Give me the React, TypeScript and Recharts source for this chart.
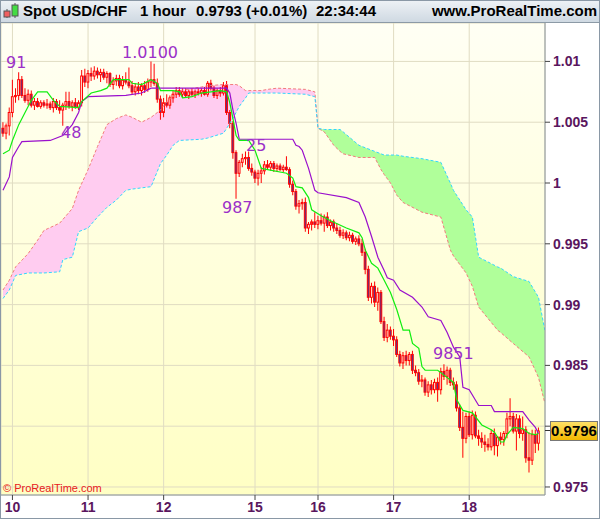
import React from 'react';
import { ComposedChart, Bar, Line, Area, XAxis, YAxis, CartesianGrid } from 'recharts';

// hourly bars, index 0 = first candle on the left
const dayLabels = ['10', '11', '12', '15', '16', '17', '18'];
const dayTicks = [3, 27, 51, 80, 100, 124, 148];
const priceTicks = [0.975, 0.98, 0.985, 0.99, 0.995, 1, 1.005, 1.01];

const opens = [
  1.0045, 1.0041, 1.0047, 1.0058, 1.0071, 1.0072, 1.0085, 1.0072, 1.0068, 1.0073,
  1.0064, 1.0067, 1.0063, 1.0066, 1.0064, 1.0065, 1.0062, 1.0067, 1.0062, 1.006,
  1.0064, 1.0067, 1.0063, 1.0066, 1.0062, 1.0066, 1.0088, 1.0083, 1.009, 1.0088,
  1.0092, 1.0089, 1.0091, 1.0087, 1.009, 1.0081, 1.0084, 1.0086, 1.008, 1.0085,
  1.0083, 1.008, 1.0075, 1.0079, 1.0076, 1.008, 1.0077, 1.0083, 1.0085, 1.0082,
  1.0069, 1.0058, 1.0066, 1.0064, 1.007, 1.0073, 1.0076, 1.0073, 1.0075, 1.0072,
  1.0075, 1.0073, 1.0075, 1.0074, 1.0076, 1.0073, 1.0082, 1.0078, 1.0072, 1.0076,
  1.0074, 1.008, 1.0058, 1.0049, 1.0025, 1.0008, 1.0017, 1.002, 1.0021, 1.0012,
  1.0009, 1.0004, 1.0008, 1.001, 1.0015, 1.0013, 1.0016, 1.0012, 1.0014, 1.0011,
  1.0013, 1.0011, 0.9999, 0.9993, 0.9981, 0.9983, 0.9984, 0.9963, 0.9966, 0.9968,
  0.9966, 0.9969, 0.9967, 0.9972, 0.9965, 0.9968, 0.9963, 0.9961, 0.9957, 0.9959,
  0.9955, 0.9957, 0.9952, 0.9954, 0.995, 0.9943, 0.9929, 0.9906, 0.9915, 0.9902,
  0.991, 0.9886, 0.9873, 0.9879, 0.9874, 0.9871, 0.9859, 0.9852, 0.9858, 0.9854,
  0.9859, 0.9846, 0.9844, 0.9837, 0.9838, 0.9828, 0.9834, 0.983, 0.9836, 0.983,
  0.9845, 0.9841, 0.9846, 0.9836, 0.9834, 0.9815, 0.9799, 0.979, 0.9808, 0.9793,
  0.9809, 0.9792, 0.979, 0.9787, 0.9785, 0.9783, 0.9794, 0.9784, 0.9791, 0.9789,
  0.9794, 0.9806, 0.9808, 0.9796, 0.9806, 0.9794, 0.9797, 0.9774, 0.9772, 0.9793,
  0.9786,
];
const highs = [
  1.005, 1.0049, 1.0062, 1.0085, 1.0078, 1.0091, 1.0088, 1.0078, 1.0077, 1.0076,
  1.007, 1.007, 1.0068, 1.0068, 1.0069, 1.0067, 1.007, 1.0069, 1.0068, 1.0066,
  1.0075, 1.0075, 1.0068, 1.007, 1.0068, 1.0093, 1.0094, 1.0093, 1.0095, 1.0096,
  1.0095, 1.0094, 1.0094, 1.0092, 1.0091, 1.0087, 1.0089, 1.0089, 1.0088, 1.0091,
  1.0095, 1.0084, 1.0082, 1.0083, 1.0082, 1.0084, 1.0086, 1.01, 1.0098, 1.0086,
  1.0072, 1.007, 1.0073, 1.0072, 1.0076, 1.0079, 1.0079, 1.0078, 1.0078, 1.0077,
  1.0078, 1.0077, 1.0078, 1.0078, 1.0079, 1.0084, 1.0085, 1.008, 1.0078, 1.0079,
  1.0083, 1.0084, 1.006, 1.0051, 1.0027, 1.0019, 1.0024, 1.0026, 1.0026, 1.0016,
  1.0011, 1.0011, 1.0013, 1.0018, 1.0019, 1.0018, 1.0018, 1.0016, 1.0016, 1.0015,
  1.0022, 1.0013, 1.0002, 0.9995, 0.9986, 0.9987, 0.9988, 0.9968, 0.997, 0.9976,
  0.9973, 0.9975, 0.9974, 0.9976, 0.997, 0.997, 0.9967, 0.9964, 0.9962, 0.9961,
  0.996, 0.9959, 0.9956, 0.9957, 0.9954, 0.9946, 0.9932, 0.9918, 0.9919, 0.9914,
  0.9912, 0.989, 0.9884, 0.9882, 0.988, 0.9874, 0.9862, 0.9861, 0.9862, 0.9861,
  0.9862, 0.985, 0.9847, 0.9842, 0.984, 0.9837, 0.9838, 0.9839, 0.984, 0.9848,
  0.9851, 0.9849, 0.9848, 0.984, 0.9837, 0.9818, 0.9812, 0.9811, 0.9812, 0.9813,
  0.9812, 0.9797, 0.9795, 0.9793, 0.979, 0.9797, 0.9798, 0.9792, 0.9795, 0.9796,
  0.9811, 0.9823, 0.9811, 0.981, 0.9809, 0.9808, 0.98, 0.9795, 0.9797, 0.9797,
  0.9799,
];
const lows = [
  1.0038, 1.0036, 1.0039, 1.0054, 1.0066, 1.0068, 1.007, 1.0066, 1.0064, 1.0062,
  1.006, 1.0062, 1.0061, 1.0062, 1.0061, 1.006, 1.0058, 1.006, 1.0057, 1.0047,
  1.006, 1.0061, 1.0059, 1.0061, 1.006, 1.0063, 1.0079, 1.0078, 1.0084, 1.0085,
  1.0086, 1.0083, 1.0085, 1.0082, 1.0079, 1.0077, 1.008, 1.0078, 1.0077, 1.0081,
  1.0078, 1.0073, 1.0072, 1.0073, 1.0072, 1.0074, 1.0075, 1.0079, 1.008, 1.0066,
  1.0052, 1.0054, 1.0062, 1.0061, 1.0066, 1.007, 1.0071, 1.007, 1.007, 1.0069,
  1.0071, 1.007, 1.0072, 1.0071, 1.0072, 1.0071, 1.0076, 1.007, 1.0069, 1.0071,
  1.0072, 1.0056, 1.0045, 1.002, 0.9987, 1.0005, 1.0013, 1.0015, 1.001, 1.0006,
  1.0, 0.9998, 1.0, 1.0007, 1.0011, 1.001, 1.0009, 1.0009, 1.001, 1.0009,
  1.001, 0.9996, 0.999, 0.9978, 0.9975, 0.9978, 0.996, 0.9958, 0.9961, 0.9963,
  0.9962, 0.9965, 0.996, 0.9963, 0.9961, 0.996, 0.9958, 0.9955, 0.9954, 0.9953,
  0.9952, 0.995, 0.9949, 0.9948, 0.994, 0.9925, 0.9903, 0.9901, 0.9898, 0.9895,
  0.9884, 0.987, 0.9869, 0.9871, 0.9866, 0.9857, 0.9849, 0.9847, 0.985, 0.985,
  0.9843, 0.9841, 0.9834, 0.9832, 0.9825, 0.9824, 0.9826, 0.9827, 0.982, 0.9826,
  0.9838, 0.9834, 0.9833, 0.983, 0.9812, 0.9796, 0.9774, 0.9786, 0.9791, 0.9789,
  0.979, 0.9784, 0.9782, 0.9779, 0.978, 0.978, 0.9776, 0.9775, 0.9785, 0.9784,
  0.979, 0.98, 0.9794, 0.978, 0.979, 0.9788, 0.977, 0.9762, 0.9768, 0.9778,
  0.978,
];
const closes = [
  1.0041, 1.0047, 1.0058, 1.0071, 1.0072, 1.0085, 1.0072, 1.0068, 1.0073, 1.0064,
  1.0067, 1.0063, 1.0066, 1.0064, 1.0065, 1.0062, 1.0067, 1.0062, 1.006, 1.0064,
  1.0067, 1.0063, 1.0066, 1.0062, 1.0066, 1.0088, 1.0083, 1.009, 1.0088, 1.0092,
  1.0089, 1.0091, 1.0087, 1.009, 1.0081, 1.0084, 1.0086, 1.008, 1.0085, 1.0083,
  1.008, 1.0075, 1.0079, 1.0076, 1.008, 1.0077, 1.0083, 1.0085, 1.0082, 1.0069,
  1.0058, 1.0066, 1.0064, 1.007, 1.0073, 1.0076, 1.0073, 1.0075, 1.0072, 1.0075,
  1.0073, 1.0075, 1.0074, 1.0076, 1.0073, 1.0082, 1.0078, 1.0072, 1.0076, 1.0074,
  1.008, 1.0058, 1.0049, 1.0025, 1.0008, 1.0017, 1.002, 1.0021, 1.0012, 1.0009,
  1.0004, 1.0008, 1.001, 1.0015, 1.0013, 1.0016, 1.0012, 1.0014, 1.0011, 1.0013,
  1.0011, 0.9999, 0.9993, 0.9981, 0.9983, 0.9984, 0.9963, 0.9966, 0.9968, 0.9966,
  0.9969, 0.9967, 0.9972, 0.9965, 0.9968, 0.9963, 0.9961, 0.9957, 0.9959, 0.9955,
  0.9957, 0.9952, 0.9954, 0.995, 0.9943, 0.9929, 0.9906, 0.9915, 0.9902, 0.991,
  0.9886, 0.9873, 0.9879, 0.9874, 0.9871, 0.9859, 0.9852, 0.9858, 0.9854, 0.9859,
  0.9846, 0.9844, 0.9837, 0.9838, 0.9828, 0.9834, 0.983, 0.9836, 0.983, 0.9845,
  0.9841, 0.9846, 0.9836, 0.9834, 0.9815, 0.9799, 0.979, 0.9808, 0.9793, 0.9809,
  0.9792, 0.979, 0.9787, 0.9785, 0.9783, 0.9794, 0.9784, 0.9791, 0.9789, 0.9794,
  0.9806, 0.9808, 0.9796, 0.9806, 0.9794, 0.9797, 0.9774, 0.9772, 0.9793, 0.9786,
  0.9796,
];

// [bar index, value]
const tenkan = [
  [0, 1.0024], [2, 1.0027], [3, 1.0035], [5, 1.0048], [7, 1.0058], [9, 1.0068], [11, 1.0075],
  [14, 1.0075], [16, 1.0068], [18, 1.0063], [24, 1.0062], [25, 1.0067], [28, 1.0074], [31, 1.0076],
  [33, 1.0078], [35, 1.0085], [40, 1.0085], [41, 1.0082], [44, 1.0081], [47, 1.0085], [49, 1.0082],
  [50, 1.0076], [54, 1.0076], [56, 1.0075], [57, 1.007], [60, 1.0071], [63, 1.0074], [69, 1.0076],
  [71, 1.0075], [72, 1.0066], [73, 1.0053], [74, 1.0039], [75, 1.0035], [78, 1.0035], [80, 1.0027],
  [82, 1.0012], [90, 1.0008], [92, 1.0004], [93, 0.9997], [95, 0.9996], [97, 0.9988], [98, 0.9978],
  [101, 0.9973], [104, 0.9969], [109, 0.9963], [113, 0.9959], [114, 0.9955], [115, 0.9945],
  [117, 0.9934], [119, 0.993], [121, 0.992], [123, 0.991], [125, 0.9896], [127, 0.9879],
  [129, 0.9879], [130, 0.9868], [132, 0.9864], [133, 0.9849], [134, 0.9846], [138, 0.9846],
  [140, 0.9842], [143, 0.9836], [144, 0.9822], [146, 0.9813], [149, 0.9811], [152, 0.9801],
  [155, 0.9797], [156, 0.9795], [158, 0.9787], [159, 0.9787], [160, 0.9793], [162, 0.9799],
  [165, 0.9798], [167, 0.9794], [169, 0.9793], [170, 0.9794],
];
const kijun = [
  [0, 0.9994], [2, 1.0005], [3, 1.0021], [5, 1.003], [6, 1.0034], [15, 1.0035], [19, 1.0039],
  [22, 1.0048], [24, 1.0058], [25, 1.0067], [27, 1.0071], [39, 1.0072], [44, 1.0074], [47, 1.0078],
  [71, 1.0078], [72, 1.0074], [73, 1.006], [74, 1.0049], [75, 1.0036], [92, 1.0036], [93, 1.0031],
  [94, 1.003], [95, 1.0027], [97, 1.0012], [99, 0.9994], [100, 0.9992], [109, 0.9988],
  [113, 0.9984], [115, 0.9972], [117, 0.9956], [119, 0.9939], [121, 0.9928], [122, 0.9922],
  [124, 0.992], [126, 0.9912], [130, 0.9906], [133, 0.9898], [135, 0.989], [139, 0.9887],
  [141, 0.9877], [143, 0.9865], [145, 0.9857], [146, 0.9832], [148, 0.983], [151, 0.9817],
  [155, 0.9817], [156, 0.9812], [165, 0.9812], [167, 0.9805], [169, 0.9799], [170, 0.9794],
];

// ichimoku cloud, shifted ahead; read at these bar indexes
const cloudIdx = [
  0, 2, 4, 8, 11, 13, 18, 19, 22, 24, 27, 30, 33, 36, 39, 41, 44, 47, 50, 52, 54, 56, 63, 65,
  70, 72, 74, 75, 77, 78, 82, 84, 87, 96, 99, 100, 102, 105, 107, 108, 113, 114, 118, 120,
  121, 123, 125, 127, 133, 139, 142, 143, 147, 149, 151, 157, 158, 162, 167, 170, 172,
];
const spanA = [
  0.9912, 0.992, 0.9931, 0.9942, 0.9953, 0.9961, 0.9967, 0.997, 0.9979, 0.9994, 1.0011, 1.003,
  1.0048, 1.0053, 1.0056, 1.0054, 1.005, 1.0054, 1.006, 1.0067, 1.0071, 1.0076, 1.0079, 1.008,
  1.0081, 1.0081, 1.0081, 1.008, 1.0076, 1.0076, 1.0076, 1.0077, 1.0078, 1.0077, 1.0075,
  1.0045, 1.0042, 1.0031, 1.0026, 1.0024, 1.0021, 1.0021, 1.0021, 1.0011, 1.0007, 1.0,
  0.999, 0.9984, 0.9976, 0.9972, 0.9945, 0.994, 0.9926, 0.9915, 0.9898, 0.9879, 0.9877,
  0.9868, 0.9857, 0.984, 0.9819,
];
const spanB = [
  0.9905, 0.9912, 0.9924, 0.9926, 0.9926, 0.9926, 0.9927, 0.9937, 0.9939, 0.996, 0.9963, 0.9972,
  0.998, 0.9986, 0.9994, 0.9995, 0.9996, 0.9997, 1.0016, 1.0023, 1.0031, 1.0035, 1.0036, 1.0037,
  1.0041, 1.0049, 1.0058, 1.0063, 1.007, 1.0074, 1.0074, 1.0074, 1.0074, 1.0073, 1.0071,
  1.0045, 1.0044, 1.0044, 1.0044, 1.0042, 1.0031, 1.003, 1.0026, 1.0024, 1.0023, 1.0023,
  1.0023, 1.0022, 1.002, 1.0017, 1.0, 0.9994, 0.9978, 0.9972, 0.9939, 0.9931, 0.993,
  0.9923, 0.9919, 0.9906, 0.9879,
];
const cloudSwitch = 100; // cloud turns from pink to green here

const rows: any[] = Array.from({ length: 173 }, (_, i) => ({ i }));
opens.forEach((o, i) => {
  const c = closes[i];
  rows[i].o = o;
  rows[i].c = c;
  rows[i].wick = [lows[i], highs[i]];
  rows[i].body = [Math.min(o, c), Math.max(o, c)];
});
tenkan.forEach(([i, v]) => { rows[i].tenkan = v; });
kijun.forEach(([i, v]) => { rows[i].kijun = v; });
cloudIdx.forEach((i, k) => {
  rows[i].sa = spanA[k];
  rows[i].sb = spanB[k];
  rows[i].cloud = [spanA[k], spanB[k]];
});

const xDomain = [-0.635, 172.06];
const yDomain = [0.97434, 1.01316];
const tickFont = { fontFamily: 'Liberation Sans, Arial, sans-serif', fontSize: 14, fontWeight: 700, fill: '#5a165e' };
const split = (cloudSwitch - cloudIdx[0]) / (cloudIdx[cloudIdx.length - 1] - cloudIdx[0]);

const CandleBody = (props: any) => {
  const { x, y, width, height, payload } = props;
  if (payload.o == null) return null;
  const down = payload.c < payload.o;
  return (
    <rect
      x={x + 0.5}
      y={y}
      width={Math.max(width - 1, 1)}
      height={Math.max(Math.abs(height), 1)}
      fill={down ? '#4b3796' : '#fffff0'}
      stroke="#ff0000"
      strokeWidth={1}
    />
  );
};

const notes = [
  { text: '91', left: 6, top: 55 },
  { text: '1.0100', left: 122, top: 45 },
  { text: '48', left: 61, top: 125 },
  { text: '25', left: 246, top: 138 },
  { text: '987', left: 222, top: 200 },
  { text: '9851', left: 433, top: 346 },
];

const headerItems = [
  { text: 'Spot USD/CHF', left: 23 },
  { text: '1 hour', left: 140 },
  { text: '0.9793 (+0.01%)', left: 196 },
  { text: '22:34:44', left: 316 },
];

export default function App() {
  return (
    <div style={{ position: 'absolute', left: 0, top: 0, width: 600, height: 519, overflow: 'hidden', background: '#ffffff' }}>
      <ComposedChart
        width={600}
        height={519}
        data={rows}
        margin={{ top: 23, right: 0, bottom: 0, left: 1 }}
        style={{ position: 'absolute', left: 0, top: 0 }}
      >
        <defs>
          <linearGradient id="bg" x1="0" y1="0" x2="0" y2="1">
            <stop offset="0" stopColor="#fffff4" />
            <stop offset="1" stopColor="#ffffc4" />
          </linearGradient>
          <linearGradient id="cloud" x1="0" y1="0" x2="1" y2="0">
            <stop offset="0" stopColor="#ffccf0" />
            <stop offset={split} stopColor="#ffccf0" />
            <stop offset={split} stopColor="#b0ff9a" />
            <stop offset="1" stopColor="#b0ff9a" />
          </linearGradient>
        </defs>
        <CartesianGrid xAxisId="m" fill="url(#bg)" fillOpacity={1} stroke="#e0dcc2" />
        <XAxis
          xAxisId="m"
          dataKey="i"
          type="number"
          domain={xDomain}
          allowDataOverflow
          ticks={dayTicks}
          interval={0}
          tickFormatter={(v: number) => dayLabels[dayTicks.indexOf(v)]}
          tick={tickFont}
          tickSize={5}
          tickMargin={2}
          height={24}
          axisLine={{ stroke: '#8a949c' }}
          tickLine={{ stroke: '#444' }}
        />
        <XAxis xAxisId="w" dataKey="i" type="number" domain={xDomain} allowDataOverflow hide height={0} />
        <XAxis xAxisId="x" dataKey="i" type="number" domain={xDomain} allowDataOverflow hide height={0} />
        <YAxis
          orientation="right"
          domain={yDomain}
          allowDataOverflow
          ticks={priceTicks}
          interval={0}
          width={55}
          tick={{ ...tickFont, textAnchor: 'start' }}
          tickSize={5}
          tickMargin={3}
          axisLine={{ stroke: '#8a949c' }}
          tickLine={{ stroke: '#444' }}
        />
        <Area
          xAxisId="m"
          dataKey="cloud"
          type="linear"
          stroke="none"
          fill="url(#cloud)"
          fillOpacity={1}
          connectNulls
          isAnimationActive={false}
        />
        <Line xAxisId="m" dataKey="sa" type="linear" stroke="#f27c7c" strokeDasharray="3 2" dot={false} connectNulls isAnimationActive={false} />
        <Line xAxisId="m" dataKey="sb" type="linear" stroke="#33d6ff" strokeDasharray="3 2" dot={false} connectNulls isAnimationActive={false} />
        <Bar xAxisId="w" dataKey="wick" barSize={1} fill="#ff0000" isAnimationActive={false} />
        <Bar xAxisId="x" dataKey="body" barSize={4} shape={<CandleBody />} isAnimationActive={false} />
        <Line xAxisId="m" dataKey="kijun" type="linear" stroke="#9a10cc" strokeWidth={1.2} dot={false} connectNulls isAnimationActive={false} />
        <Line xAxisId="m" dataKey="tenkan" type="linear" stroke="#10ee10" strokeWidth={1.2} dot={false} connectNulls isAnimationActive={false} />
      </ComposedChart>

      <div
        style={{
          position: 'absolute', left: 0, top: 0, width: 600, height: 22,
          background: 'linear-gradient(#eef2f6, #cfd9e2)', borderBottom: '1px solid #8c9aa6',
          fontFamily: 'Liberation Sans, Arial, sans-serif', fontWeight: 700, fontSize: 15, color: '#000',
        }}
      >
        <svg width={18} height={20} style={{ position: 'absolute', left: 2, top: 1 }}>
          <line x1={5} y1={8} x2={5} y2={17} stroke="#555" />
          <rect x={2} y={10} width={6} height={6} fill="#f06060" stroke="#555" />
          <line x1={13} y1={2} x2={13} y2={17} stroke="#555" />
          <rect x={10} y={4} width={6} height={11} fill="#44dd44" stroke="#555" />
        </svg>
        {headerItems.map((h) => (
          <span key={h.text} style={{ position: 'absolute', left: h.left, top: 2, lineHeight: '18px' }}>{h.text}</span>
        ))}
        <span style={{ position: 'absolute', right: 3, top: 2, lineHeight: '18px' }}>www.ProRealTime.com</span>
      </div>

      {notes.map((n) => (
        <div
          key={n.text}
          style={{
            position: 'absolute', left: n.left, top: n.top, lineHeight: '16px',
            fontFamily: 'DejaVu Sans, sans-serif', fontSize: 16, color: '#9b30c8',
          }}
        >
          {n.text}
        </div>
      ))}

      <div
        style={{
          position: 'absolute', left: 3, top: 482, lineHeight: '13px',
          fontFamily: 'Liberation Sans, Arial, sans-serif', fontSize: 11, color: '#e82020',
        }}
      >
        © ProRealTime.com
      </div>

      <div style={{ position: 'absolute', left: 545, top: 430, width: 6, height: 1, background: '#333' }} />
      <div
        style={{
          position: 'absolute', left: 550, top: 421, width: 48, height: 20, boxSizing: 'border-box',
          background: 'linear-gradient(#ffe066, #f2b800)', border: '1px solid #777',
          fontFamily: 'Liberation Sans, Arial, sans-serif', fontWeight: 700, fontSize: 15,
          lineHeight: '18px', textAlign: 'center', color: '#000',
        }}
      >
        0.9796
      </div>
      <div style={{ position: 'absolute', left: 0, top: 0, width: 600, height: 519, boxSizing: 'border-box', border: '1px solid #8a98a6', pointerEvents: 'none' }} />
    </div>
  );
}
